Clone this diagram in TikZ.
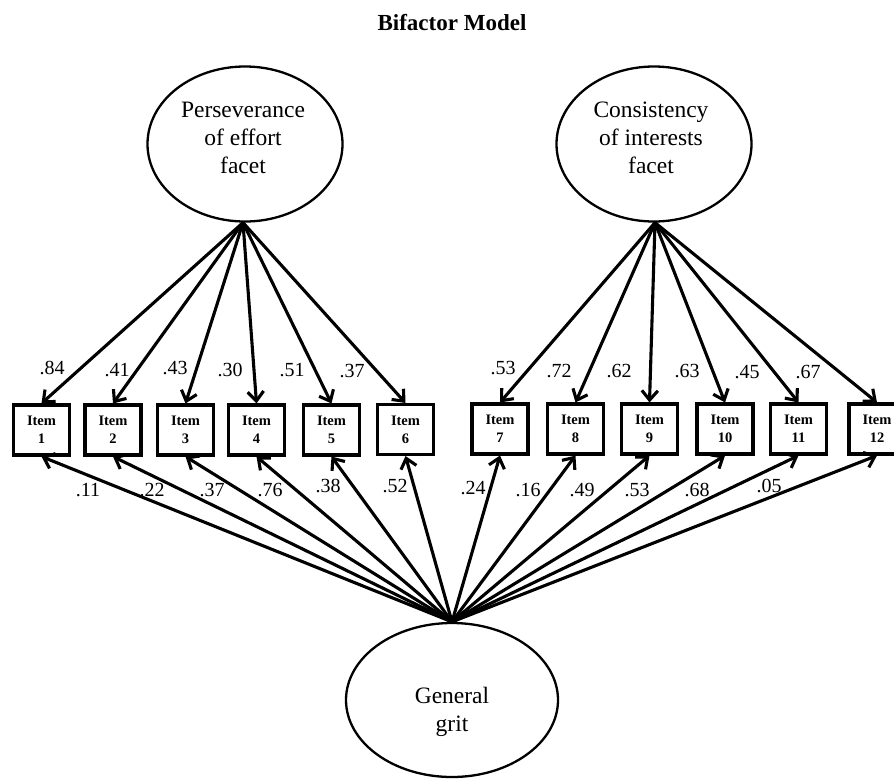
\documentclass[tikz,border=0pt]{standalone}
\usepackage{fontspec}
\setmainfont{Liberation Serif}
\usetikzlibrary{shapes.geometric,arrows.meta}
\begin{document}
\begin{tikzpicture}[x=1pt,y=-1pt,
  latent/.style={draw,ellipse,line width=2.3pt,inner sep=0pt},
  latenttext/.style={align=center,inner sep=0pt,font=\fontsize{23.5}{28}\selectfont},
  itembox/.style={draw,rectangle,line width=3.1pt,minimum width=56pt,minimum height=50pt,inner sep=0pt,align=center,font=\bfseries\fontsize{14.5}{18}\selectfont},
  load/.style={font=\fontsize{20}{24}\selectfont,inner sep=0pt},
  loadarrow/.style={line width=3.1pt,-{Straight Barb[length=9.5pt,width=16pt]}}
]
\useasboundingbox (0,0) rectangle (894,780);

\node[font=\bfseries\fontsize{23}{28}\selectfont,inner sep=0pt] (title) at (452,23) {Bifactor Model};

\node[latent,minimum width=195pt,minimum height=155pt] (P) at (245,144) {};
\node[latenttext] (Pt) at (243,138) {Perseverance\\of effort\\facet};
\node[latent,minimum width=195pt,minimum height=155pt] (C) at (654,144) {};
\node[latenttext] (Ct) at (651,138) {Consistency\\of interests\\facet};
\node[latent,minimum width=212pt,minimum height=154pt] (G) at (452,700) {};
\node[latenttext] (Gt) at (452,712) {General\\grit};

\coordinate (Pb) at ([xshift=-2pt]P.south);
\coordinate (Cb) at ([xshift=1pt]C.south);
\coordinate (Gb) at (G.north);

\foreach \i/\x/\y in {1/41.5/430,2/113/430,3/185.5/430,4/256.5/430,5/331.5/430,6/405.5/429.5,7/500/429,8/575.5/429,9/649.5/429,10/725/429,11/798.5/429,12/877/429}{
  \node[itembox] (I\i) at (\x,\y) {Item\\\i};
}

\foreach \i in {1,...,6}{\draw[loadarrow] (Pb) -- (I\i.north);}
\foreach \i in {7,...,12}{\draw[loadarrow] (Cb) -- (I\i.north);}
\foreach \i in {1,...,12}{\draw[loadarrow] (Gb) -- (I\i.south);}

% facet loadings
\node[load] (a1) at (52,368) {.84};
\node[load] (a2) at (117,370) {.41};
\node[load] (a3) at (175,368) {.43};
\node[load] (a4) at (230,370) {.30};
\node[load] (a5) at (292,370) {.51};
\node[load] (a6) at (352,371) {.37};
\node[load] (a7) at (503,368) {.53};
\node[load] (a8) at (559,371) {.72};
\node[load] (a9) at (619,371) {.62};
\node[load] (a10) at (687,371) {.63};
\node[load] (a11) at (747,372) {.45};
\node[load] (a12) at (808,372) {.67};
% general loadings
\node[load] (b1) at (88,490) {.11};
\node[load] (b2) at (152,490) {.22};
\node[load] (b3) at (212,490) {.37};
\node[load] (b4) at (270,490) {.76};
\node[load] (b5) at (328,486) {.38};
\node[load] (b6) at (395,486) {.52};
\node[load] (b7) at (473,488) {.24};
\node[load] (b8) at (528,490) {.16};
\node[load] (b9) at (582,490) {.49};
\node[load] (b10) at (637,490) {.53};
\node[load] (b11) at (697,490) {.68};
\node[load] (b12) at (769,486) {.05};
\end{tikzpicture}
\end{document}
